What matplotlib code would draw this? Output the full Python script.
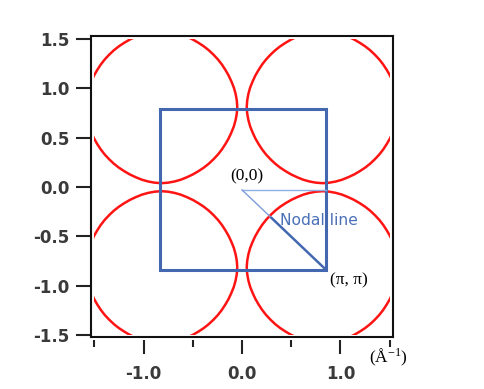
import numpy as np
import matplotlib.pyplot as plt
from matplotlib.transforms import Bbox, TransformedBbox

# Fermi pocket outline, one quadrant (0..90 deg), offsets from the pocket centre (1/Å)
quad_dx = [0.772, 0.767, 0.755, 0.737, 0.712, 0.684, 0.651, 0.615, 0.575, 0.530,
           0.482, 0.431, 0.376, 0.319, 0.259, 0.197, 0.133, 0.067, 0.0]
quad_dy = [0.0, 0.067, 0.133, 0.197, 0.259, 0.319, 0.376, 0.431, 0.482, 0.530,
           0.575, 0.615, 0.651, 0.684, 0.712, 0.737, 0.755, 0.767, 0.772]

# pocket centres (the (pi,pi) points)
pocket_cx = [-0.82, 0.82]
pocket_cy = [-0.815, 0.81]

# data window of the map
k_max = 1.5

# first Brillouin zone (as drawn)
bz_x = [-0.834, 0.855, 0.855, -0.834, -0.834]
bz_y = [0.79, 0.79, -0.84, -0.84, 0.79]

# special points
gamma = (0.0, -0.03)
m_point = (0.855, -0.84)
nodal_kf = (0.30, -0.314)

x_ticks = [-1.5, -1.0, -0.5, 0.0, 0.5, 1.0, 1.5]
x_major = [-1.0, 0.0, 1.0]
x_labels = ['-1.0', '0.0', '1.0']
y_ticks = [-1.5, -1.0, -0.5, 0.0, 0.5, 1.0, 1.5]
y_labels = ['-1.5', '-1.0', '-0.5', '0.0', '0.5', '1.0', '1.5']

# closed pocket from the quadrant, by mirror symmetry
qx = np.array(quad_dx)
qy = np.array(quad_dy)
loop_x = np.concatenate([qx, -qx[::-1], -qx, qx[::-1]])
loop_y = np.concatenate([qy, qy[::-1], -qy, -qy[::-1]])

fig = plt.figure(figsize=(4.84, 3.89), dpi=100)
ax = fig.add_axes([0.188, 0.1337, 0.624, 0.774])

# pockets are only drawn inside the measured window
clip = TransformedBbox(Bbox([[-k_max, -k_max], [k_max, k_max]]), ax.transData)
for cx in pocket_cx:
    for cy in pocket_cy:
        ln, = ax.plot(loop_x + cx, loop_y + cy, color='#ff1414', lw=1.8,
                      solid_capstyle='butt')
        ln.set_clip_path(None)
        ln.set_clip_box(clip)

blue = '#4468b0'
light = '#8eaee6'
ax.plot(bz_x, bz_y, color=blue, lw=2.2, solid_joinstyle='miter')
ax.plot([gamma[0], m_point[0]], [gamma[1], gamma[1]], color=light, lw=1.0)
ax.plot([gamma[0], nodal_kf[0]], [gamma[1], nodal_kf[1]], color='#7d9cd8', lw=1.0)
ax.plot([nodal_kf[0], m_point[0]], [nodal_kf[1], m_point[1]], color=blue, lw=1.8)

serif = 'Liberation Serif'
ax.text(0.046, 0.109, '(0,0)', family=serif, fontsize=12.5, ha='center', va='center')
ax.text(1.088, -0.944, '(π, π)', family=serif, fontsize=12.5, ha='center', va='center')
ax.text(0.783, -0.339, 'Nodal line', family='DejaVu Sans', fontsize=11.2,
        color='#4a70b8', ha='center', va='center')
ax.text(1.485, -1.722, r'(Å$\mathregular{^{-1}}$)', family=serif, fontsize=12.5,
        ha='center', va='center', clip_on=False)

ax.set_xlim(-1.535, 1.535)
ax.set_ylim(-1.52, 1.53)

ax.set_xticks(x_major)
ax.set_xticklabels(x_labels)
ax.set_xticks(x_ticks, minor=True)
ax.set_yticks(y_ticks)
ax.set_yticklabels(y_labels)

for s in ['left', 'right', 'top']:
    ax.spines[s].set_linewidth(1.5)
    ax.spines[s].set_color('#111111')
# x ticks sit a little below the frame
ax.spines['bottom'].set_position(('outward', 2.2))
ax.spines['bottom'].set_visible(False)
ax.plot([0, 1], [0, 0], transform=ax.transAxes, color='#111111', lw=1.5,
        clip_on=False, solid_capstyle='projecting')

ax.tick_params(axis='x', which='major', direction='out', length=10, width=1.5,
               pad=8, labelsize=12, labelcolor='#3a3a3a', color='#222222')
ax.tick_params(axis='x', which='minor', direction='out', length=5, width=1.5,
               color='#222222')
ax.tick_params(axis='y', which='major', direction='out', length=11, width=1.5,
               pad=4.5, labelsize=12, labelcolor='#3a3a3a', color='#222222')
for lab in ax.get_xticklabels() + ax.get_yticklabels():
    lab.set_family('DejaVu Sans')
    lab.set_weight('bold')

fig.savefig('out.png', dpi=100)
